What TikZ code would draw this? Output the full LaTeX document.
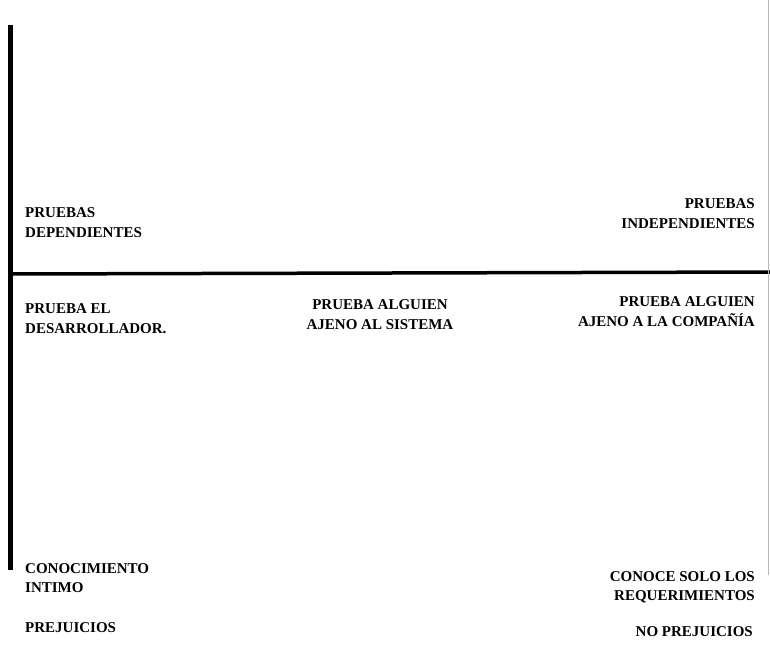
\documentclass[tikz,border=0pt]{standalone}
\usepackage{fontspec}
\setmainfont{Liberation Serif}
\begin{document}
\begin{tikzpicture}[x=1pt,y=-1pt,
  axisline/.style={line width=5pt},
  dividerline/.style={line width=3.5pt},
  edgeline/.style={draw=gray!55,line width=0.8pt},
  lbl/.style={inner sep=0pt,font=\fontsize{15}{19.5}\selectfont\bfseries},
  lbleft/.style={lbl,anchor=north west,align=left},
  lbright/.style={lbl,anchor=north east,align=right},
  lbmid/.style={lbl,anchor=north,align=center}]
\useasboundingbox (0,0) rectangle (770,645);
\fill[white] (0,0) rectangle (770,645);

% axes
\coordinate (vtop) at (10,25);
\coordinate (vbot) at (10,570);
\coordinate (hleft) at (10,274);
\coordinate (hright) at (770,272);
\coordinate (etop) at (768,0);
\coordinate (ebot) at (768,575);
\draw[axisline] (vtop) -- (vbot);
\draw[dividerline] (hleft) -- (hright);
\draw[edgeline] (etop) -- (ebot);

% left column
\node[lbleft] (dep) at (25,207.7) {PRUEBAS\\DEPENDIENTES};
\node[lbleft] (dev) at (25,303.7) {PRUEBA EL\\DESARROLLADOR.};
\node[lbleft] (know) at (25,563) {CONOCIMIENTO\\INTIMO};
\node[lbleft] (bias) at (25,622.7) {PREJUICIOS};

% middle column
\node[lbmid] (sys) at (380,299.7) {PRUEBA ALGUIEN\\AJENO AL SISTEMA};

% right column
\node[lbright] (indep) at (755,198.7) {PRUEBAS\\INDEPENDIENTES};
\node[lbright] (comp) at (755,296.7) {PRUEBA ALGUIEN\\AJENO A LA COMPAÑÍA};
\node[lbright] (req) at (755,571) {CONOCE SOLO LOS\\REQUERIMIENTOS};
\node[lbright] (nobias) at (753,626.7) {NO PREJUICIOS};
\end{tikzpicture}
\end{document}
